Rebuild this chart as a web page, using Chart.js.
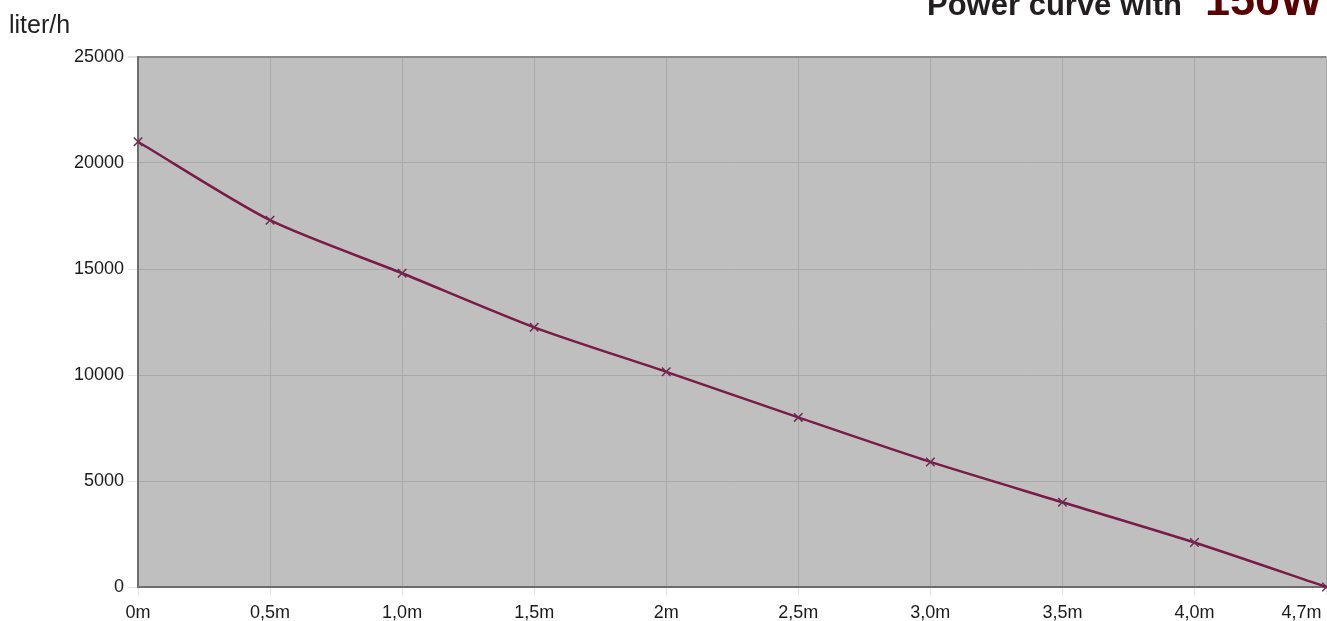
<!DOCTYPE html>
<html>
<head>
<meta charset="utf-8">
<script src="https://cdn.jsdelivr.net/npm/chart.js@4/dist/chart.umd.min.js"></script>
<style>
    html, body { margin: 0; padding: 0; background: #fff; overflow: hidden; }
    body { width: 1327px; height: 621px; position: relative; font-family: "Liberation Sans", Arial, sans-serif; }
    #wrap { position: absolute; left: 0; top: 0; width: 1334px; height: 621px; }
    .unit { position: absolute; left: 9px; top: 12px; font-size: 25px; line-height: 25px; color: #222; }
    .title1 { position: absolute; left: 927px; top: -11px; font-size: 31px; line-height: 31px; font-weight: bold; color: #231f20; white-space: nowrap; }
    .title2 { position: absolute; left: 1205px; top: -23px; font-size: 45px; line-height: 45px; font-weight: bold; color: #5a0000; white-space: nowrap; }
</style>
</head>
<body>
<div id="wrap"><canvas id="graph"></canvas></div>
<div class="unit">liter/h</div>
<div class="title1">Power curve with</div>
<div class="title2">150W</div>
<script>
const xLabels = ["0m", "0,5m", "1,0m", "1,5m", "2m", "2,5m", "3,0m", "3,5m", "4,0m", "4,7m"]
const flowValues = [21000, 17300, 14800, 12250, 10150, 8000, 5900, 4000, 2100, 0]
const yMin = 0
const yMax = 25000
const yStep = 5000

const lineColor = "#7b1a48"
const markColor = "#6e2a52"
const plotColor = "#bfbfbf"
const gridColor = "#a9a9a9"
const axisColor = "#6d6d6d"

// gray plot area
const plotBackground = {
    id: "plotBackground",
    beforeDraw(chart) {
        const area = chart.chartArea
        const ctx = chart.ctx
        ctx.save()
        ctx.fillStyle = plotColor
        ctx.fillRect(area.left, area.top, area.right - area.left, area.bottom - area.top)
        ctx.restore()
    },
}

const chartID = document.getElementById("graph").getContext("2d")
let graphic = new Chart(chartID, {
    type: "line",
    data: {
        labels: xLabels,
        datasets: [
            {
                label: "liter/h",
                data: flowValues,
                borderColor: lineColor,
                borderWidth: 2.5,
                tension: 0.25,
                pointStyle: "crossRot",
                pointRadius: 6,
                pointBorderWidth: 1.5,
                pointBorderColor: markColor,
                pointBackgroundColor: markColor,
                clip: false,
            },
        ],
    },
    options: {
        responsive: true,
        maintainAspectRatio: false,
        animation: false,
        devicePixelRatio: 1,
        layout: { padding: { top: 57, right: 0, bottom: 0, left: 0 } },
        plugins: {
            legend: { display: false },
            tooltip: { enabled: false },
        },
        scales: {
            x: {
                ticks: {
                    color: "#1a1a1a",
                    font: { family: "Liberation Sans", size: 18 },
                    autoSkip: false,
                    maxRotation: 0,
                    padding: 7,
                    callback: function (value, index) {
                        let text = this.getLabelForValue(value)
                        // keep the last label inside the picture
                        if (index === xLabels.length - 1) text += "\u00a0".repeat(10)
                        return text
                    },
                },
                grid: { color: gridColor, lineWidth: 1, tickLength: 8, tickColor: "#e4e4e4" },
                border: { color: axisColor, width: 2 },
                afterFit: function (scale) {
                    scale.height = 34
                    scale.paddingRight = 0
                },
            },
            y: {
                min: yMin,
                max: yMax,
                ticks: {
                    stepSize: yStep,
                    color: "#1a1a1a",
                    font: { family: "Liberation Sans", size: 18 },
                    padding: 4,
                    callback: (value) => String(value),
                },
                grid: {
                    color: (ctx) => (ctx.tick && ctx.tick.value === yMax ? "#8c8c8c" : gridColor),
                    lineWidth: (ctx) => (ctx.tick && ctx.tick.value === yMax ? 2 : 1),
                    tickLength: 10,
                    tickColor: "#e4e4e4",
                },
                border: { color: axisColor, width: 2 },
                afterFit: function (scale) {
                    scale.width = 138
                },
            },
        },
    },
    plugins: [plotBackground],
})
</script>
</body>
</html>
